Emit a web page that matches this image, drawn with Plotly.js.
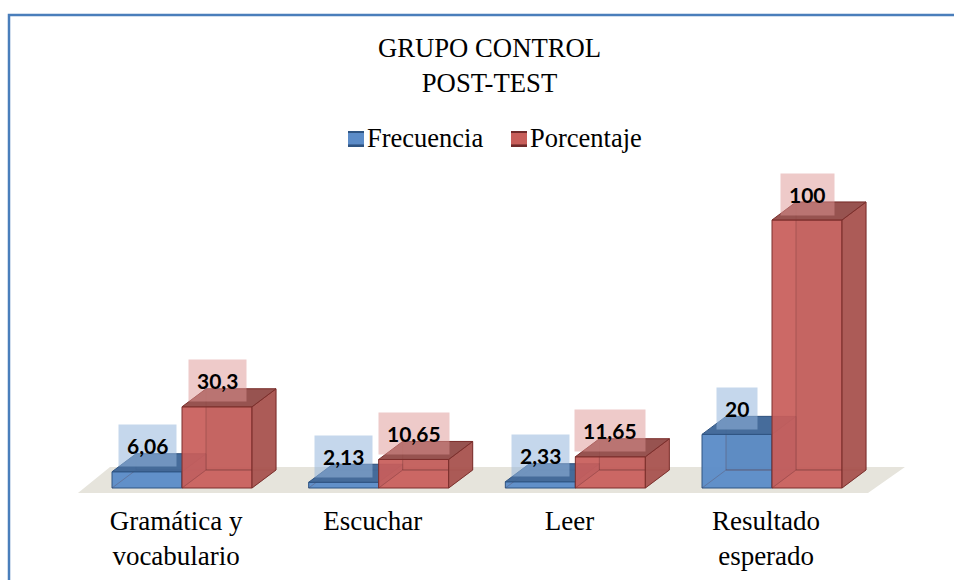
<!DOCTYPE html>
<html>
<head>
<meta charset="utf-8">
<script src="https://cdn.plot.ly/plotly-3.0.1.min.js"></script>
<style>html,body{margin:0;padding:0;background:#fff}#chart{width:954px;height:580px}</style>
</head>
<body>
<div id="chart"></div>
<script>
const categories = ["Gramática y<br>vocabulario", "Escuchar", "Leer", "Resultado<br>esperado"];
const frecuencia = [6.06, 2.13, 2.33, 20];
const porcentaje = [30.3, 10.65, 11.65, 100];
const seriesNames = ["Frecuencia", "Porcentaje"];

const idx = categories.map((_, i) => i);
const W = 954, H = 580, plotH = 495;
const pxPerX = 196.67, pxPerY = 2.68, x0Px = 182, y0Px = 488;
const barW = 70 / pxPerX, dX = 24 / pxPerX, dY = 18 / pxPerY, labelUp = 26 / pxPerY;
const xRange = [-x0Px / pxPerX, (W - x0Px) / pxPerX];
const yRange = [-(plotH - y0Px) / pxPerY, y0Px / pxPerY];

const styles = [
  {front: "rgba(92,140,200,0.96)", edge: "#2f5482", top: "rgba(60,100,150,0.95)", side: "rgba(70,110,160,0.85)", box: "rgba(150,182,220,0.55)"},
  {front: "rgba(200,94,90,0.93)", edge: "#7c2f2c", top: "rgba(142,68,65,0.92)", side: "rgba(168,82,78,0.95)", box: "rgba(222,150,148,0.5)"}
];

function poly(pts, fill, xa, ya, edge) {
  return {type: "scatter", mode: "lines", x: pts.map(p => p[0]), y: pts.map(p => p[1]),
    fill: "toself", fillcolor: fill, line: {color: edge, width: 1}, showlegend: false, hoverinfo: "skip", xaxis: xa, yaxis: ya};
}

function seriesTraces(values, s, name, left, xa, ya) {
  const st = styles[s], out = [];
  out.push({type: "bar", name: name, x: idx, y: values, width: barW, offset: left ? -barW : 0,
    marker: {color: st.front, line: {color: st.edge, width: 1}}, xaxis: xa, yaxis: ya, hoverinfo: "x+y"});
  values.forEach((v, i) => {
    const l = left ? i - barW : i, r = l + barW;
    out.push(poly([[l + dX, dY], [l + dX, v + dY], [r + dX, v + dY], [r + dX, dY], [l + dX, dY]], "rgba(0,0,0,0.03)", xa, ya, "rgba(90,40,40,0.3)"));
    out.push(poly([[l, 0], [l + dX, dY], [r + dX, dY], [r, 0]], "rgba(0,0,0,0)", xa, ya, "rgba(90,40,40,0.25)"));
    out.push(poly([[r, 0], [r + dX, dY], [r + dX, v + dY], [r, v], [r, 0]], st.side, xa, ya, st.edge));
    out.push(poly([[l, v], [l + dX, v + dY], [r + dX, v + dY], [r, v], [l, v]], st.top, xa, ya, st.edge));
  });
  return out;
}

const traces = [
  ...seriesTraces(frecuencia, 0, seriesNames[0], true, "x", "y"),
  ...seriesTraces(porcentaje, 1, seriesNames[1], false, "x2", "y2")
];

function valueLabels(values, s, left) {
  return values.map((v, i) => ({
    x: i + (left ? -barW / 2 : barW / 2), y: v + labelUp, xref: "x2", yref: "y2",
    text: "<b>" + String(v).replace(".", ",") + "</b>", showarrow: false,
    font: {family: "Lato, sans-serif", size: 21, color: "#000"},
    bgcolor: styles[s].box, borderpad: 8
  }));
}

const floorPts = [[-0.529, -1.87], [3.488, -1.87], [3.676, 7.84], [-0.366, 7.84]];
const floorPath = "M" + floorPts.map(p => p.join(",")).join("L") + "Z";

function swatchBand(x0, color) {
  return {type: "rect", xref: "paper", yref: "paper", x0: x0 / W, x1: (x0 + 16) / W, y0: 1 - 147 / plotH, y1: 1 - 131 / plotH,
    fillcolor: color, line: {width: 0}, layer: "above"};
}

const layout = {
  width: W, height: H,
  margin: {l: 0, r: 0, t: 0, b: H - plotH, pad: 0},
  paper_bgcolor: "#fff", plot_bgcolor: "rgba(0,0,0,0)",
  font: {family: "'Liberation Serif', serif", size: 26, color: "#000"},
  title: {text: "GRUPO CONTROL<br>POST-TEST", x: 489.5 / W, xanchor: "center", y: 1 - 57 / H, yref: "container", yanchor: "top",
    font: {family: "'Liberation Serif', serif", size: 26.7, color: "#000"}},
  barmode: "overlay",
  xaxis: {range: xRange, tickmode: "array", tickvals: idx.map(i => i - 0.03), ticktext: categories, showgrid: false, zeroline: false,
    showline: false, ticks: "", ticklabelstandoff: 7, tickangle: 0,
    tickfont: {family: "'Liberation Serif', serif", size: 27, color: "#000"}},
  yaxis: {range: yRange, visible: false, showgrid: false, zeroline: false},
  xaxis2: {range: xRange, overlaying: "x", visible: false},
  yaxis2: {range: yRange, overlaying: "y", visible: false},
  legend: {orientation: "h", x: 327 / W, xanchor: "left", y: 1 - 113 / plotH, yanchor: "top", bgcolor: "rgba(0,0,0,0)",
    font: {family: "'Liberation Serif', serif", size: 26.5, color: "#000"}, itemwidth: 30, entrywidth: 118, entrywidthmode: "pixels"},
  shapes: [
    {type: "path", path: floorPath, xref: "x", yref: "y", layer: "below", fillcolor: "#e6e4dc", line: {width: 0}},
    {type: "path", path: `M ${9 / W} ${1 - 580 / plotH} L ${9 / W} ${1 - 15 / plotH} L 1 ${1 - 15 / plotH}`, xref: "paper", yref: "paper",
      line: {color: "#4a7ebb", width: 2.5}, layer: "above"},
    swatchBand(348, "#2f5482"), swatchBand(511, "#6f2a2a")
  ],
  annotations: [...valueLabels(frecuencia, 0, true), ...valueLabels(porcentaje, 1, false)]
};

Plotly.newPlot("chart", traces, layout, {displayModeBar: false}).then(() => {
  document.querySelectorAll(".legend .legendpoints path").forEach(p => {
    p.setAttribute("transform", "translate(29,2) scale(1.33,0.95)");
    p.style.strokeWidth = "0px";
    p.style.fillOpacity = "1";
  });
});
</script>
</body>
</html>
